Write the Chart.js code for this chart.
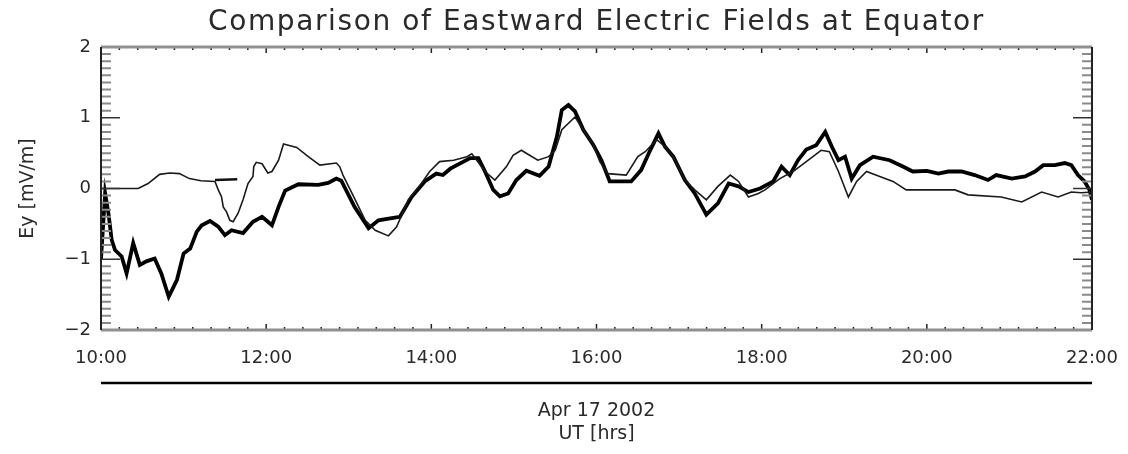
<!DOCTYPE html>
<html>
<head>
<meta charset="utf-8">
<title>Eastward Electric Fields</title>
<script src="https://cdn.jsdelivr.net/npm/chart.js@4.4.0/dist/chart.umd.min.js"></script>
<style>
  body { margin: 0; background: #fff; }
  #wrap { width: 1128px; height: 454px; }
</style>
</head>
<body>
<div id="wrap"><canvas id="efield" width="1128" height="454"></canvas></div>
<script>
// heavy trace (UT hours, Ey in mV/m)
const thickTime = [10.00, 10.05, 10.09, 10.13, 10.17, 10.25, 10.31, 10.39, 10.47, 10.55, 10.65, 10.73, 10.82, 10.92,
  11.00, 11.08, 11.16, 11.22, 11.32, 11.42, 11.50, 11.58, 11.72, 11.84, 11.95, 12.07, 12.15, 12.23, 12.39, 12.63,
  12.75, 12.85, 12.91, 13.07, 13.24, 13.36, 13.52, 13.62, 13.76, 13.92, 14.06, 14.14, 14.23, 14.39, 14.47, 14.57,
  14.65, 14.75, 14.83, 14.93, 15.03, 15.15, 15.31, 15.42, 15.52, 15.58, 15.66, 15.74, 15.84, 15.96, 16.06, 16.16,
  16.42, 16.54, 16.65, 16.75, 16.83, 16.93, 17.07, 17.19, 17.33, 17.47, 17.60, 17.72, 17.84, 17.98, 18.14, 18.24,
  18.34, 18.44, 18.54, 18.66, 18.77, 18.85, 18.93, 19.01, 19.09, 19.19, 19.35, 19.55, 19.71, 19.83, 20.00, 20.14,
  20.26, 20.42, 20.58, 20.74, 20.84, 21.03, 21.19, 21.31, 21.41, 21.55, 21.67, 21.75, 21.83, 21.91, 21.97, 22.00];
const thickEy = [-1.00, -0.07, -0.35, -0.73, -0.87, -0.96, -1.20, -0.77, -1.08, -1.03, -0.99, -1.20, -1.53, -1.29,
  -0.92, -0.85, -0.61, -0.52, -0.46, -0.54, -0.66, -0.59, -0.63, -0.47, -0.40, -0.52, -0.26, -0.03, 0.06, 0.05,
  0.08, 0.14, 0.11, -0.26, -0.56, -0.45, -0.42, -0.40, -0.12, 0.10, 0.21, 0.19, 0.28, 0.38, 0.43, 0.43,
  0.24, -0.02, -0.11, -0.07, 0.12, 0.25, 0.18, 0.31, 0.73, 1.11, 1.18, 1.09, 0.83, 0.62, 0.40, 0.10,
  0.10, 0.26, 0.54, 0.78, 0.59, 0.45, 0.12, -0.07, -0.37, -0.21, 0.07, 0.03, -0.05, 0.00, 0.10, 0.31,
  0.19, 0.40, 0.55, 0.61, 0.80, 0.59, 0.40, 0.45, 0.14, 0.33, 0.45, 0.40, 0.31, 0.24, 0.25, 0.21,
  0.24, 0.24, 0.19, 0.12, 0.19, 0.14, 0.17, 0.24, 0.33, 0.33, 0.36, 0.33, 0.19, 0.10, -0.02, -0.16];

// light trace
const thinTime = [10.00, 10.45, 10.57, 10.71, 10.83, 10.95, 11.07, 11.21, 11.38, 11.42, 11.46, 11.48, 11.52, 11.56,
  11.60, 11.66, 11.72, 11.78, 11.84, 11.85, 11.88, 11.95, 12.02, 12.07, 12.15, 12.21, 12.37, 12.51, 12.65, 12.85,
  12.89, 12.93, 13.04, 13.20, 13.32, 13.48, 13.58, 13.72, 13.88, 13.98, 14.10, 14.27, 14.43, 14.49, 14.55, 14.65,
  14.77, 14.91, 14.99, 15.09, 15.19, 15.29, 15.42, 15.50, 15.58, 15.74, 15.84, 15.96, 16.04, 16.14, 16.36, 16.50,
  16.59, 16.73, 16.83, 16.93, 17.07, 17.19, 17.33, 17.47, 17.62, 17.72, 17.84, 17.96, 18.04, 18.22, 18.38, 18.54,
  18.72, 18.82, 18.93, 19.05, 19.15, 19.27, 19.43, 19.59, 19.75, 20.04, 20.34, 20.50, 20.90, 21.15, 21.39, 21.59,
  21.75, 21.87, 22.00];
const thinEy = [0.00, 0.00, 0.07, 0.20, 0.22, 0.21, 0.14, 0.11, 0.10, -0.02, -0.12, -0.26, -0.33, -0.45,
  -0.47, -0.35, -0.16, 0.07, 0.17, 0.31, 0.37, 0.35, 0.22, 0.24, 0.40, 0.63, 0.58, 0.45, 0.33, 0.36,
  0.31, 0.19, -0.07, -0.45, -0.59, -0.67, -0.54, -0.16, 0.07, 0.24, 0.38, 0.40, 0.45, 0.49, 0.40, 0.24,
  0.12, 0.31, 0.47, 0.54, 0.47, 0.40, 0.45, 0.54, 0.83, 1.01, 0.83, 0.62, 0.38, 0.21, 0.19, 0.45,
  0.52, 0.69, 0.59, 0.45, 0.12, -0.02, -0.16, 0.03, 0.19, 0.10, -0.12, -0.07, -0.02, 0.14, 0.24, 0.38,
  0.54, 0.52, 0.24, -0.12, 0.10, 0.24, 0.17, 0.10, -0.02, -0.02, -0.02, -0.09, -0.12, -0.19, -0.05, -0.12,
  -0.05, -0.06, -0.05];

// short stub near 11:30
const stubTime = [11.38, 11.65];
const stubEy = [0.12, 0.13];

const hourTicks = [10, 12, 14, 16, 18, 20, 22];
const eyTicks = [-2, -1, 0, 1, 2];

const FONT = "'DejaVu Sans', 'Liberation Sans', sans-serif";
const TEXT = '#2a2a2a';

function toPoints(t, v) {
  return t.map((x, i) => ({ x: x, y: v[i] }));
}

// frame, inward ticks and the extra captions
const framePlugin = {
  id: 'frame',
  afterDraw(chart) {
    const ctx = chart.ctx;
    const { left, right, top, bottom } = chart.chartArea;
    const xs = chart.scales.x, ys = chart.scales.y;
    ctx.save();

    // y minor/major ticks every 0.1
    for (let i = -20; i <= 20; i++) {
      const py = ys.getPixelForValue(i / 10);
      const major = i % 10 === 0;
      ctx.strokeStyle = major ? '#333' : '#8a8a8a';
      ctx.lineWidth = major ? 1.5 : 2;
      const len = major ? 19 : 10;
      ctx.beginPath();
      ctx.moveTo(left, py); ctx.lineTo(left + len, py);
      ctx.moveTo(right, py); ctx.lineTo(right - len, py);
      ctx.stroke();
    }

    // x ticks: 9 intervals per 2 hours
    ctx.strokeStyle = '#222';
    ctx.lineWidth = 1.5;
    for (let k = 0; k <= 54; k++) {
      const px = xs.getPixelForValue(10 + k * 2 / 9);
      const len = k % 9 === 0 ? 6 : 3;
      ctx.beginPath();
      ctx.moveTo(px, top); ctx.lineTo(px, top + len);
      ctx.moveTo(px, bottom); ctx.lineTo(px, bottom - len);
      ctx.stroke();
    }

    // box
    ctx.strokeStyle = '#8f8f8f';
    ctx.lineWidth = 3;
    ctx.beginPath();
    ctx.moveTo(left, top); ctx.lineTo(right, top);
    ctx.moveTo(left, bottom); ctx.lineTo(right, bottom);
    ctx.stroke();
    ctx.strokeStyle = '#222';
    ctx.lineWidth = 2;
    ctx.beginPath();
    ctx.moveTo(left, top); ctx.lineTo(left, bottom);
    ctx.moveTo(right, top); ctx.lineTo(right, bottom);
    ctx.stroke();

    const mid = (left + right) / 2;
    ctx.fillStyle = TEXT;
    ctx.textAlign = 'center';
    ctx.textBaseline = 'middle';

    // title
    ctx.font = '28px ' + FONT;
    ctx.letterSpacing = '1.6px';
    ctx.fillText('Comparison of Eastward Electric Fields at Equator', mid, 23);
    ctx.letterSpacing = '0px';

    // date bar and labels under the time axis
    ctx.strokeStyle = '#000';
    ctx.lineWidth = 2.5;
    ctx.beginPath();
    ctx.moveTo(left, 383); ctx.lineTo(right, 383);
    ctx.stroke();
    ctx.font = '19px ' + FONT;
    ctx.fillText('Apr 17 2002', mid, 411);
    ctx.fillText('UT [hrs]', mid, 434);

    // y axis title
    ctx.translate(28, (top + bottom) / 2);
    ctx.rotate(-Math.PI / 2);
    ctx.fillText('Ey [mV/m]', 0, 0);
    ctx.restore();
  }
};

const ctx = document.getElementById('efield').getContext('2d');
const chart = new Chart(ctx, {
  type: 'line',
  data: {
    datasets: [
      {
        label: 'thin',
        data: toPoints(thinTime, thinEy),
        borderColor: '#1a1a1a',
        borderWidth: 1.6,
        pointRadius: 0,
        tension: 0
      },
      {
        label: 'stub',
        data: toPoints(stubTime, stubEy),
        borderColor: '#111',
        borderWidth: 2.4,
        pointRadius: 0,
        tension: 0
      },
      {
        label: 'thick',
        data: toPoints(thickTime, thickEy),
        borderColor: '#000',
        borderWidth: 3.8,
        pointRadius: 0,
        tension: 0
      }
    ]
  },
  options: {
    responsive: false,
    animation: false,
    layout: { padding: { top: 47, right: 36, left: 0, bottom: 0 } },
    plugins: {
      legend: { display: false },
      title: { display: false },
      tooltip: { enabled: false }
    },
    scales: {
      x: {
        type: 'linear',
        min: 10,
        max: 22,
        afterBuildTicks: s => { s.ticks = hourTicks.map(v => ({ value: v })); },
        afterFit: s => {
          s.height = 124;
          // let the layout padding alone decide the plot edges
          s.paddingLeft = 0;
          s.paddingRight = 0;
        },
        grid: { display: false, drawTicks: false },
        border: { display: false },
        ticks: {
          padding: 18,
          color: TEXT,
          font: { family: FONT, size: 18 },
          maxRotation: 0,
          callback: v => (v < 10 ? '0' : '') + v + ':00'
        }
      },
      y: {
        min: -2,
        max: 2,
        afterBuildTicks: s => { s.ticks = eyTicks.map(v => ({ value: v })); },
        afterFit: s => { s.width = 101; },
        grid: { display: false, drawTicks: false },
        border: { display: false },
        ticks: {
          padding: 10,
          color: TEXT,
          font: { family: FONT, size: 18 },
          callback: v => (v < 0 ? '\u2212' + Math.abs(v) : '' + v)
        }
      }
    }
  },
  plugins: [framePlugin]
});
</script>
</body>
</html>
